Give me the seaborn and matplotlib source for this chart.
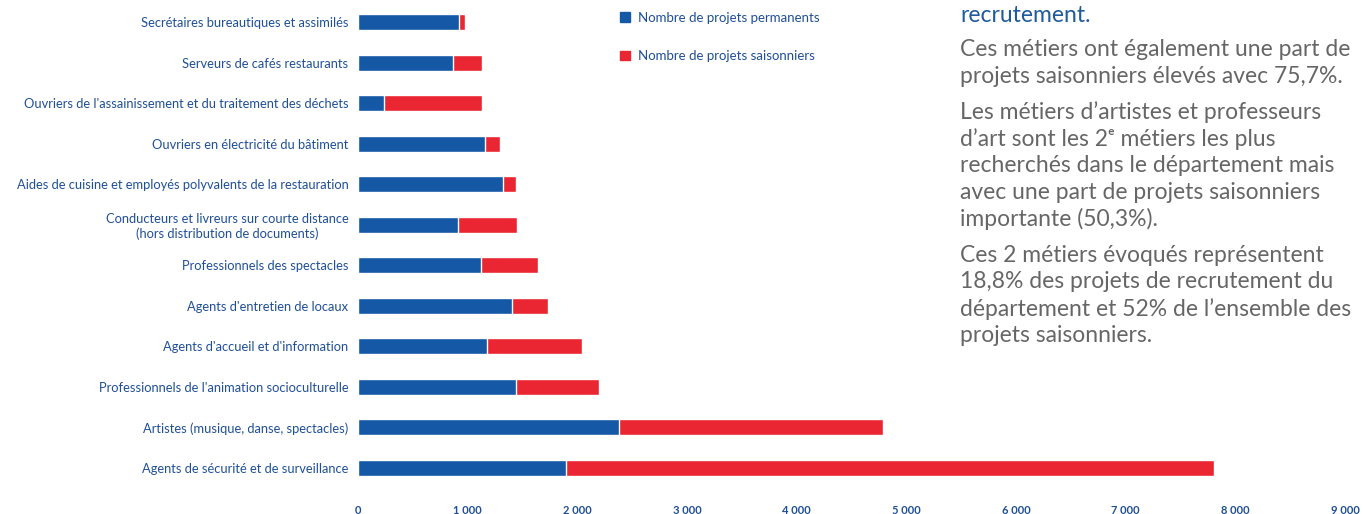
import numpy as np
import pandas as pd
from matplotlib import pyplot as plt
from matplotlib.ticker import FuncFormatter
from matplotlib.patches import Patch
import seaborn as sns

metiers = [
    "Secrétaires bureautiques et assimilés",
    "Serveurs de cafés restaurants",
    "Ouvriers de l'assainissement et du traitement des déchets",
    "Ouvriers en électricité du bâtiment",
    "Aides de cuisine et employés polyvalents de la restauration",
    "Conducteurs et livreurs sur courte distance\n(hors distribution de documents)",
    "Professionnels des spectacles",
    "Agents d'entretien de locaux",
    "Agents d'accueil et d'information",
    "Professionnels de l'animation socioculturelle",
    "Artistes (musique, danse, spectacles)",
    "Agents de sécurité et de surveillance",
]
permanents = [920, 865, 240, 1160, 1320, 910, 1120, 1400, 1175, 1445, 2380, 1895]
saisonniers = [55, 265, 895, 135, 125, 540, 525, 330, 865, 750, 2405, 5910]
x_ticks = [0, 1000, 2000, 3000, 4000, 5000, 6000, 7000, 8000, 9000]

BLUE = "#1458a6"
RED = "#e92631"
LABEL = "#1f4f96"
GREY = "#666666"

df = pd.DataFrame({"metier": metiers, "perm": permanents, "sais": saisonniers})
df["total"] = df["perm"] + df["sais"]

sns.set_style("white")
plt.rcParams["font.family"] = ["Lato", "DejaVu Sans"]

fig = plt.figure(figsize=(13.63, 5.14), dpi=100)
ax = fig.add_axes([358 / 1363, 26 / 514, (1345 - 358) / 1363, 486 / 514])

sns.barplot(data=df, y="metier", x="total", color=RED, orient="h", width=0.4,
            saturation=1, ax=ax)
sns.barplot(data=df, y="metier", x="perm", color=BLUE, orient="h", width=0.4,
            saturation=1, ax=ax)

ax.set_xlim(0, 9000)
ax.set_ylim(11.5, -0.5)
ax.set_xticks(x_ticks)
ax.xaxis.set_major_formatter(FuncFormatter(lambda v, p: f"{int(v):,}".replace(",", " ")))
ax.set_xlabel("")
ax.set_ylabel("")
sns.despine(ax=ax, left=True, bottom=True)
ax.tick_params(axis="x", colors=LABEL, labelsize=8, length=0, pad=12)
ax.tick_params(axis="y", colors=LABEL, labelsize=9.3, length=0, pad=7)
for t in ax.get_xticklabels():
    t.set_fontweight("bold")
for t in ax.get_yticklabels():
    t.set_horizontalalignment("right")
    t.set_multialignment("center")

handles = [Patch(color=BLUE, label="Nombre de projets permanents"),
           Patch(color=RED, label="Nombre de projets saisonniers")]
leg = fig.legend(handles=handles, loc="upper left", bbox_to_anchor=(608 / 1363, 1.0),
                 frameon=False, fontsize=9.5, handlelength=0.75, handleheight=0.75,
                 handletextpad=0.6, labelspacing=2.0, labelcolor=LABEL)

# texte de commentaire a droite
fig.text(960 / 1363, 1 - 15 / 514, "recrutement.", color="#1f5a9c", fontsize=16.5,
         va="center", ha="left")
paras = [
    (50, ["Ces métiers ont également une part de",
          "projets saisonniers élevés avec 75,7%."]),
    (112, ["Les métiers d’artistes et professeurs",
           "d’art sont les 2ᵉ métiers les plus",
           "recherchés dans le département mais",
           "avec une part de projets saisonniers",
           "importante (50,3%)."]),
    (255, ["Ces 2 métiers évoqués représentent",
           "18,8% des projets de recrutement du",
           "département et 52% de l’ensemble des",
           "projets saisonniers."]),
]
for y0, lines in paras:
    for i, line in enumerate(lines):
        fig.text(960 / 1363, 1 - (y0 + i * 26.8) / 514, line, color=GREY,
                 fontsize=16.5, va="center", ha="left")

fig.savefig("out.png", dpi=100)
